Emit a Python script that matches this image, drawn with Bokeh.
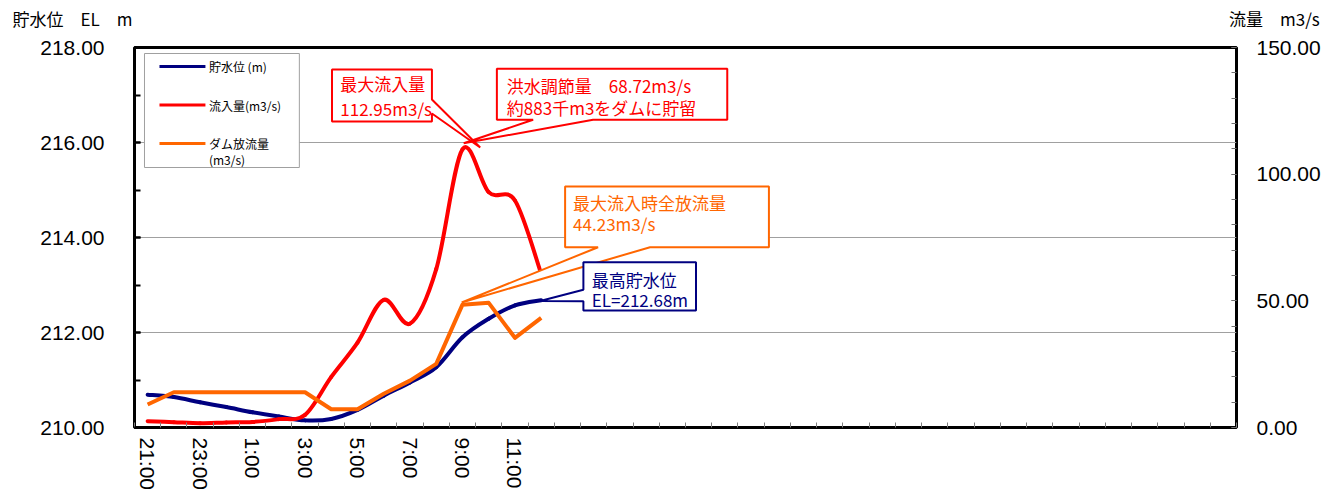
import numpy as np
from bokeh.plotting import figure
from bokeh.models import (Range1d, LinearAxis, FixedTicker, NumeralTickFormatter,
                          Label, BoxAnnotation, PolyAnnotation)
from bokeh.embed import file_html
from bokeh.resources import INLINE

# ---------------- data ----------------
hours = ["21:00", "22:00", "23:00", "0:00", "1:00", "2:00", "3:00", "4:00",
         "5:00", "6:00", "7:00", "8:00", "9:00", "10:00", "11:00", "12:00"]
water_level = [210.69, 210.64, 210.53, 210.43, 210.32, 210.23, 210.15, 210.18,
               210.37, 210.67, 210.95, 211.27, 211.90, 212.29, 212.57, 212.68]
inflow = [2.5, 2.1, 1.7, 2.0, 2.2, 3.3, 5.0, 20.0,
          33.5, 50.4, 41.0, 62.5, 109.8, 92.9, 89.6, 60.7]
outflow = [9.1, 13.9, 13.9, 13.9, 13.9, 13.9, 13.9, 7.2,
           7.2, 13.3, 18.5, 25.1, 48.5, 49.2, 35.4, 43.3]
n_slots = 42
left_ticks = [210, 212, 214, 216, 218]
right_ticks = [0, 50, 100, 150]
x_tick_labels = hours[::2]

series_names = ["貯水位 (m)", "流入量(m3/s)", "ダム放流量", "(m3/s)"]
left_title = "貯水位　EL　m"
right_title = "流量　m3/s"

NAVY = "#000080"
RED = "#FF0000"
ORANGE = "#FF6600"
JP = "Noto Sans CJK JP"

# frame position on the page (pixels)
FL, FT, FR, FB = 134.0, 47.0, 1237.0, 427.0
W, H = 1323, 496

# ---------------- figure ----------------
p = figure(width=W, height=H,
           x_range=Range1d(0, n_slots), y_range=Range1d(left_ticks[0], left_ticks[-1]),
           output_backend="svg", toolbar_location=None,
           min_border_left=int(FL), min_border_right=int(W - FR),
           min_border_top=int(FT), min_border_bottom=int(H - FB))
p.background_fill_color = "white"
p.border_fill_color = "white"
p.outline_line_color = "black"
p.outline_line_width = 3
p.outline_line_alpha = 1.0
p.extra_y_ranges = {"q": Range1d(right_ticks[0], right_ticks[-1])}

# axis titles: both sit in one title row above the plot area
gap = "\u3000" * 64 + "\u2002"
t = p.title
t.visible = True
t.text = left_title + gap + right_title + "\n\u3000"
t.align = "left"
t.offset = 12 - FL
t.standoff = 4
t.vertical_align = "bottom"
t.text_font = JP
t.text_font_size = "17px"
t.text_font_style = "normal"
t.text_color = "black"
t.text_line_height = 0.6

# left axis
ya = p.yaxis[0]
ya.ticker = FixedTicker(ticks=left_ticks, minor_ticks=list(range(left_ticks[0], left_ticks[-1] + 1)))
ya.formatter = NumeralTickFormatter(format="0.00")
ya.axis_line_color = None
ya.major_tick_in = 6
ya.major_tick_out = 0
ya.minor_tick_in = 6
ya.minor_tick_out = 0
ya.major_tick_line_width = 2
ya.minor_tick_line_width = 2
ya.major_tick_line_color = "black"
ya.minor_tick_line_color = "black"
ya.major_label_standoff = 30
ya.major_label_text_font = "Liberation Sans"
ya.major_label_text_font_size = "21px"
ya.major_label_text_color = "black"

# right axis
ra = LinearAxis(y_range_name="q",
                ticker=FixedTicker(ticks=right_ticks, minor_ticks=list(range(0, 151, 10))),
                formatter=NumeralTickFormatter(format="0.00"))
ra.axis_line_color = None
ra.major_tick_in = 5
ra.major_tick_out = 0
ra.minor_tick_in = 5
ra.minor_tick_out = 0
ra.major_tick_line_color = "#707070"
ra.minor_tick_line_color = "#707070"
ra.major_label_standoff = 20
ra.major_label_text_font = "Liberation Sans"
ra.major_label_text_font_size = "21px"
ra.major_label_text_color = "black"
p.add_layout(ra, "right")

# bottom axis
xa = p.xaxis[0]
centers = [i + 0.5 for i in range(0, len(hours), 2)]
xa.ticker = FixedTicker(ticks=centers, minor_ticks=list(range(0, n_slots + 1)))
xa.major_label_overrides = {c: lab for c, lab in zip(centers, x_tick_labels)}
xa.axis_line_color = None
xa.major_tick_in = 0
xa.major_tick_out = 0
xa.minor_tick_in = 5
xa.minor_tick_out = 0
xa.minor_tick_line_color = "#808080"
xa.major_label_orientation = "vertical"
xa.major_label_standoff = 10
xa.major_label_text_font = "Liberation Sans"
xa.major_label_text_font_size = "21px"
xa.major_label_text_color = "black"

p.xgrid.visible = False
p.ygrid.ticker = FixedTicker(ticks=left_ticks[1:-1])
p.ygrid.grid_line_color = "#a0a0a0"
p.ygrid.grid_line_width = 1

# ---------------- series ----------------
xs = np.arange(len(hours)) + 0.5


def smooth(x, y):
    x = np.asarray(x, float)
    y = np.asarray(y, float)
    n = len(x)
    i = np.arange(n - 1)
    im = np.maximum(i - 1, 0)
    ip2 = np.minimum(i + 2, n - 1)
    return dict(x0=x[i], y0=y[i], x1=x[i + 1], y1=y[i + 1],
                cx0=x[i] + (x[i + 1] - x[im]) / 6, cy0=y[i] + (y[i + 1] - y[im]) / 6,
                cx1=x[i + 1] - (x[ip2] - x[i]) / 6, cy1=y[i + 1] - (y[ip2] - y[i]) / 6)


p.bezier(**smooth(xs, water_level), line_color=NAVY, line_width=4, line_cap="round")
p.bezier(**smooth(xs, inflow), line_color=RED, line_width=4, line_cap="round", y_range_name="q")
p.line(xs, outflow, line_color=ORANGE, line_width=4, line_join="round", y_range_name="q")


# ---------------- pixel helpers for decorations ----------------
def px_x(px):
    return (px - FL) * n_slots / (FR - FL)


def px_y(py):
    return left_ticks[-1] - (py - FT) * (left_ticks[-1] - left_ticks[0]) / (FB - FT)


def label(text, px, py, color="black", size="17px", font=JP):
    p.add_layout(Label(x=px_x(px), y=px_y(py), text=text, text_color=color,
                       text_font=font, text_font_size=size,
                       text_align="left", text_baseline="middle"))


# ---------------- legend (manual) ----------------
p.add_layout(BoxAnnotation(left=px_x(144), right=px_x(299), top=px_y(53), bottom=px_y(167),
                           fill_color="white", fill_alpha=1.0,
                           line_color="#a0a0a0", line_alpha=1.0, line_width=1, level="underlay"))
for yy, col in zip([66, 104.5, 143], [NAVY, RED, ORANGE]):
    p.segment(x0=[px_x(159)], y0=[px_y(yy)], x1=[px_x(205)], y1=[px_y(yy)],
              line_color=col, line_width=3)
for txt, yy in zip(series_names, [66, 104.5, 143, 158.5]):
    label(txt, 208.5, yy, color="black", size="12px")

# ---------------- callouts ----------------
callouts = [
    (RED, [(331.7, 69), (431.7, 69), (431.7, 99), (480, 147), (431.7, 113), (431.7, 121), (331.7, 121)],
     [("最大流入量", 340, 83), ("112.95m3/s", 340, 108)]),
    (RED, [(496.7, 68.3), (727.3, 68.3), (727.3, 119.3), (593, 119.3), (463.5, 142.7), (533, 119.3), (496.7, 119.3)],
     [("洪水調節量　68.72m3/s", 506.7, 85), ("約883千m3をダムに貯留", 506.7, 106.7)]),
    (ORANGE, [(565, 186), (769, 186), (769, 246.7), (650, 246.7), (461.5, 302), (598, 246.7), (565, 246.7)],
     [("最大流入時全放流量", 573, 201.7), ("44.23m3/s", 573, 223)]),
    (NAVY, [(583.3, 261.7), (696, 261.7), (696, 310), (583.3, 310), (583.3, 300.7), (540, 300.5), (583.3, 289.3)],
     [("最高貯水位", 591.7, 279), ("EL=212.68m", 591.7, 299.3)]),
]
for col, pts, texts in callouts:
    p.add_layout(PolyAnnotation(xs=[px_x(a) for a, b in pts], ys=[px_y(b) for a, b in pts],
                                fill_color="white", fill_alpha=1.0,
                                line_color=col, line_alpha=1.0, line_width=2))
    for tx_, px_, py_ in texts:
        label(tx_, px_, py_, color=col, size="17px")

open("out.html", "w").write(file_html(p, INLINE))
